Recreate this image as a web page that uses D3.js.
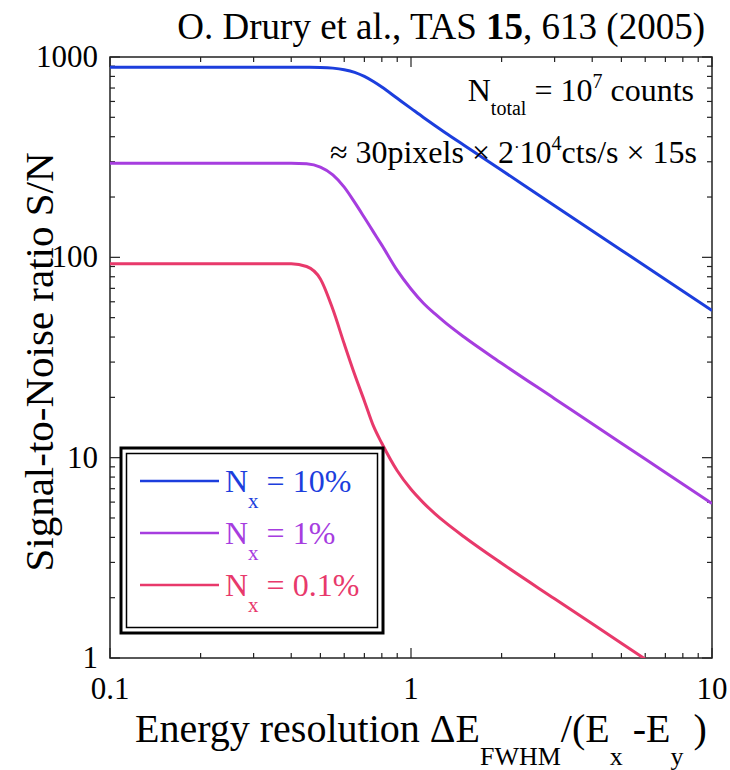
<!DOCTYPE html>
<html>
<head>
<meta charset="utf-8">
<script src="https://cdn.jsdelivr.net/npm/d3@7"></script>
<style>
  body { margin: 0; background: #fff; }
</style>
</head>
<body>
<div id="chart"></div>
<script>
const resolution = [0.1, 0.2, 0.3, 0.4, 0.45, 0.5, 0.55, 0.6, 0.65, 0.7, 0.75, 0.8, 0.9, 1.0, 1.1, 1.2, 1.3, 1.5, 2, 3, 5, 7, 10];
// signal-to-noise for each line fraction
const snr10 = [890, 890, 890, 890, 889, 887, 880, 864, 838, 800, 754, 708, 622, 554, 499, 455, 419, 363, 272, 181, 108.6, 77.6, 54.3];
const snr1 = [295, 295, 295, 295, 293, 282, 258, 224, 188, 158, 134, 115, 86, 69.5, 59, 52.3, 47.2, 40, 29.6, 19.7, 11.8, 8.43, 5.9];
const snr01 = [93, 93, 93, 93, 90, 78, 55, 37, 26, 19.2, 14.4, 11.8, 8.6, 6.95, 5.95, 5.26, 4.75, 4.03, 2.97, 1.975, 1.185, 0.846, 0.592];
const seriesNames = ["10%", "1%", "0.1%"];
const seriesColors = ["#1c3edd", "#a63ddf", "#e8396b"];
const xTicks = [0.1, 1, 10];
const yTicks = [1, 10, 100, 1000];

const width = 730, height = 770;
const margin = {top: 57, right: 18, bottom: 112, left: 110};

const svg = d3.select("#chart").append("svg")
    .attr("width", width)
    .attr("height", height)
    .style("font-family", "'Liberation Serif', 'Times New Roman', Times, 'DejaVu Serif', serif");

const x = d3.scaleLog().domain([0.1, 10]).range([margin.left, width - margin.right]);
const y = d3.scaleLog().domain([1, 1000]).range([height - margin.bottom, margin.top]);

const x0 = x.range()[0], x1 = x.range()[1];
const y0 = y.range()[0], y1 = y.range()[1];

// clip for the curves
svg.append("clipPath").attr("id", "plotclip")
  .append("rect")
    .attr("x", x0).attr("y", y1)
    .attr("width", x1 - x0).attr("height", y0 - y1);

// ticks (inward on all four sides)
function minors(lo, hi) {
  const out = [];
  for (let d = lo; d < hi; d *= 10) {
    for (let k = 1; k < 10; k++) out.push(d * k);
  }
  out.push(hi);
  return out;
}
const xAll = minors(0.1, 10);
const yAll = minors(1, 1000);
const isMajor = v => Math.abs(Math.log10(v) - Math.round(Math.log10(v))) < 1e-9;
const tickG = svg.append("g").attr("stroke", "#222").attr("stroke-width", 1.2);

xAll.forEach(v => {
  const len = isMajor(v) ? 10 : 5;
  tickG.append("line").attr("x1", x(v)).attr("x2", x(v)).attr("y1", y0).attr("y2", y0 - len);
  tickG.append("line").attr("x1", x(v)).attr("x2", x(v)).attr("y1", y1).attr("y2", y1 + len);
});
yAll.forEach(v => {
  const len = isMajor(v) ? 10 : 5;
  tickG.append("line").attr("x1", x0).attr("x2", x0 + len).attr("y1", y(v)).attr("y2", y(v));
  tickG.append("line").attr("x1", x1).attr("x2", x1 - len).attr("y1", y(v)).attr("y2", y(v));
});

// frame
svg.append("rect")
    .attr("x", x0).attr("y", y1)
    .attr("width", x1 - x0).attr("height", y0 - y1)
    .attr("fill", "none")
    .attr("stroke", "#222")
    .attr("stroke-width", 1.5);

// tick labels
svg.append("g").selectAll("text")
  .data(xTicks).enter().append("text")
    .attr("x", d => x(d))
    .attr("y", 699)
    .attr("text-anchor", "middle")
    .style("font-size", "31px")
    .text(d => d3.format("~g")(d));

svg.append("g").selectAll("text")
  .data(yTicks).enter().append("text")
    .attr("x", 98)
    .attr("y", d => y(d) + 10)
    .attr("text-anchor", "end")
    .style("font-size", "31px")
    .text(d => d);

// curves
const line = d3.line()
    .x(d => x(d[0]))
    .y(d => y(d[1]))
    .curve(d3.curveMonotoneX);

[snr10, snr1, snr01].forEach((vals, i) => {
  svg.append("path")
      .datum(resolution.map((r, j) => [r, vals[j]]))
      .attr("clip-path", "url(#plotclip)")
      .attr("fill", "none")
      .attr("stroke", seriesColors[i])
      .attr("stroke-width", 3)
      .attr("d", line);
});

// title
const title = svg.append("text")
    .attr("x", 705).attr("y", 39)
    .attr("text-anchor", "end")
    .style("font-size", "37px");
title.append("tspan").text("O. Drury et al., TAS ");
title.append("tspan").style("font-weight", "bold").text("15");
title.append("tspan").text(", 613 (2005)");

// annotation
const ann1 = svg.append("text")
    .attr("x", 694).attr("y", 101)
    .attr("text-anchor", "end")
    .style("font-size", "32px");
ann1.append("tspan").text("N");
ann1.append("tspan").attr("dy", 14).style("font-size", "20px").text("total");
ann1.append("tspan").attr("dy", -14).text(" = 10");
ann1.append("tspan").attr("dy", -13).style("font-size", "20px").text("7");
ann1.append("tspan").attr("dy", 13).text(" counts");

const ann2 = svg.append("text")
    .attr("x", 697).attr("y", 163)
    .attr("text-anchor", "end")
    .style("font-size", "32px");
ann2.append("tspan").text("\u2248 30pixels \u00d7 2");
ann2.append("tspan").attr("dy", -10).style("font-size", "17px").text("\u00b7");
ann2.append("tspan").attr("dy", 10).text("10");
ann2.append("tspan").attr("dy", -13).style("font-size", "20px").text("4");
ann2.append("tspan").attr("dy", 13).text("cts/s \u00d7 15s");

// axis titles
const xl = svg.append("text")
    .attr("x", 135).attr("y", 742)
    .style("font-size", "40px");
xl.append("tspan").text("Energy resolution \u0394E");
xl.append("tspan").attr("dy", 23).style("font-size", "26px").text("FWHM");
xl.append("tspan").attr("dy", -23).text("/(E");
xl.append("tspan").attr("dy", 23).style("font-size", "26px").text("x");
xl.append("tspan").attr("dy", -23).text(" -E");
xl.append("tspan").attr("dy", 23).style("font-size", "26px").text("y");
xl.append("tspan").attr("dy", -23).text(" )");

svg.append("text")
    .attr("transform", "translate(53,362) rotate(-90)")
    .attr("text-anchor", "middle")
    .style("font-size", "41px")
    .text("Signal-to-Noise ratio S/N");

// legend
const lg = svg.append("g");
lg.append("rect").attr("x", 121).attr("y", 448).attr("width", 262).attr("height", 185)
    .attr("fill", "#fff").attr("stroke", "#000").attr("stroke-width", 3);
lg.append("rect").attr("x", 126.5).attr("y", 453.5).attr("width", 251).attr("height", 174)
    .attr("fill", "none").attr("stroke", "#000").attr("stroke-width", 1.5);

seriesNames.forEach((name, i) => {
  const ly = 481 + i * 52;
  lg.append("line")
      .attr("x1", 140).attr("x2", 219)
      .attr("y1", ly).attr("y2", ly)
      .attr("stroke", seriesColors[i])
      .attr("stroke-width", 2.5);
  const t = lg.append("text")
      .attr("x", 225).attr("y", ly + 11)
      .attr("fill", seriesColors[i])
      .style("font-size", "32px");
  t.append("tspan").text("N");
  t.append("tspan").attr("dy", 16).style("font-size", "21px").text("x");
  t.append("tspan").attr("dy", -16).text(" = " + name);
});
</script>
</body>
</html>
